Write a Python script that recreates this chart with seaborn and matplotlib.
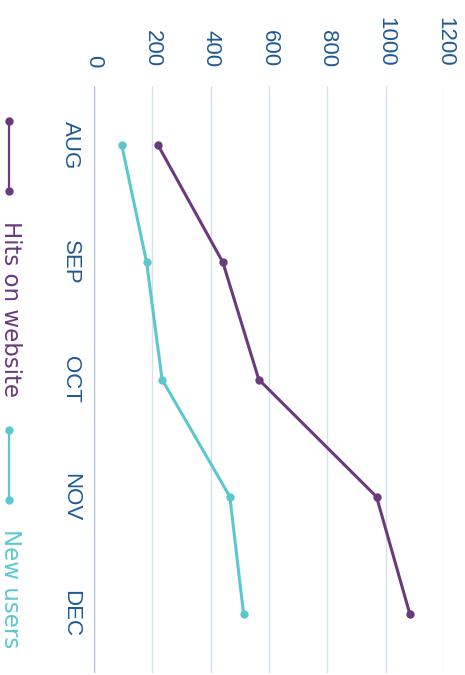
import pandas as pd
import seaborn as sns
import matplotlib.pyplot as plt
from matplotlib.lines import Line2D

# Chart data
months = ['AUG', 'SEP', 'OCT', 'NOV', 'DEC']
hits_on_website = [220, 442, 565, 968, 1082]
new_users = [96, 181, 234, 466, 513]
series_names = ['Hits on website', 'New users']
value_ticks = [0, 200, 400, 600, 800, 1000, 1200]

purple = '#6a3a7c'
cyan = '#5bc8d0'
tick_blue = '#1e5a92'

df = pd.DataFrame({
    'month': months * 2,
    'value': hits_on_website + new_users,
    'series': [series_names[0]] * len(months) + [series_names[1]] * len(months),
})

sns.set_style('white')
plt.rcParams['font.family'] = ['Liberation Sans', 'DejaVu Sans']

W, H = 465, 675
fig = plt.figure(figsize=(W / 100, H / 100), dpi=100)

# axes placed in pixel terms (chart is drawn rotated 90 degrees clockwise)
left_px, right_px, top_px, bottom_px = 93.7, 444.3, 86.4, 672.6
ax = fig.add_axes([left_px / W, 1 - bottom_px / H,
                   (right_px - left_px) / W, (bottom_px - top_px) / H])

sns.lineplot(data=df, x='value', y='month', hue='series',
             palette={series_names[0]: purple, series_names[1]: cyan},
             orient='y', sort=False, estimator=None, marker='o',
             markersize=6, markeredgewidth=0, linewidth=2.2,
             legend=False, ax=ax)

ax.set_xlim(0, 1200)
ax.set_ylim(len(months) - 0.5, -0.5)
ax.set_xticks(value_ticks)
ax.set_xticklabels([str(v) for v in value_ticks])
ax.set_yticks(range(len(months)))
ax.set_yticklabels(months)
ax.set_xlabel('')
ax.set_ylabel('')

ax.xaxis.tick_top()
ax.tick_params(axis='x', length=0, pad=14, labelrotation=-90,
               labelsize=16, labelcolor=tick_blue)
ax.tick_params(axis='y', length=0, pad=9, labelrotation=-90,
               labelsize=16, labelcolor=tick_blue)
plt.setp(ax.get_yticklabels(), va='center')

for s in ax.spines.values():
    s.set_visible(False)
ax.grid(axis='x', color='#d6e1ea', linewidth=1.0)
ax.grid(axis='y', visible=False)
ax.axvline(0, color='#aec3d6', linewidth=1.6, zorder=1)

# legend, drawn rotated along the left edge
legend_items = [
    (series_names[0], purple, 120.7, 190.7, 221.0),
    (series_names[1], cyan, 430.0, 500.0, 529.0),
]
for name, color, y0, y1, ty in legend_items:
    fig.add_artist(Line2D([9 / W, 9 / W], [1 - y0 / H, 1 - y1 / H],
                          transform=fig.transFigure, color=color,
                          linewidth=1.6, marker='o', markersize=6,
                          markeredgewidth=0))
    fig.text(3.5 / W, 1 - ty / H, name, color=color, fontsize=16.5,
             family='DejaVu Sans', rotation=-90, rotation_mode='anchor',
             ha='left', va='baseline')

plt.savefig('out.png', dpi=100)
